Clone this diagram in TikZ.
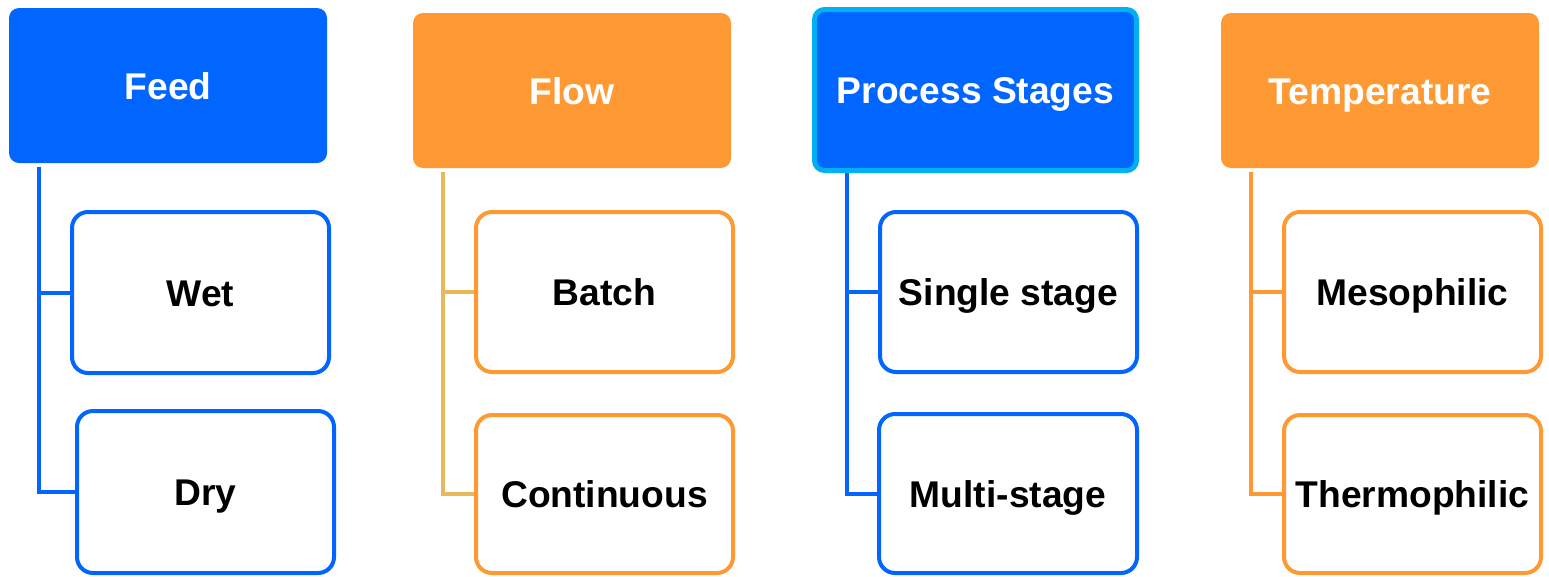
\documentclass[tikz,border=0pt]{standalone}
\usepackage{fontspec}
\setmainfont{Liberation Sans}
\definecolor{headblue}{HTML}{0066FF}
\definecolor{headorange}{HTML}{FF9933}
\definecolor{edgecyan}{HTML}{00B0F0}
\definecolor{linegold}{HTML}{E8B85C}
\tikzset{
  lbl/.style={font=\fontsize{37.2}{40}\selectfont\bfseries, text height=27pt, text depth=0pt, inner sep=0pt},
  header/.style={lbl, rectangle, rounded corners=10pt, text=white, minimum width=318pt, minimum height=155pt},
  child/.style={lbl, rectangle, rounded corners=16pt, draw=#1, line width=4pt, fill=white, text=black, minimum width=257pt, minimum height=160pt},
  conn/.style={draw=#1, line width=4pt},
}
\begin{document}
\begin{tikzpicture}[x=1pt,y=-1pt]
\useasboundingbox (0,0) rectangle (1549,576);

% Feed
\node[header, fill=headblue] (feed) at (168,85.5) {Feed};
\node[child=headblue, minimum height=161pt] (wet) at (200.5,292.5) {Wet};
\node[child=headblue, minimum height=162pt] (dry) at (205.5,492) {Dry};
\coordinate (feedtop) at (39,167);
\draw[conn=headblue] (feedtop) |- (dry.west);
\draw[conn=headblue] (wet.west) -- (feedtop |- wet.west);

% Flow
\node[header, fill=headorange] (flow) at (572,90.5) {Flow};
\node[child=headorange] (batch) at (604.5,292) {Batch};
\node[child=headorange, minimum height=158pt] (cont) at (604.5,494) {Continuous};
\coordinate (flowtop) at (443,172);
\draw[conn=linegold] (flowtop) |- (cont.west);
\draw[conn=linegold] (batch.west) -- (flowtop |- batch.west);

% Process stages
\node[header, fill=headblue, draw=edgecyan, line width=5pt, minimum width=322pt, minimum height=161pt] (proc) at (975.5,90) {Process Stages};
\node[child=headblue] (single) at (1008.5,292) {Single stage};
\node[child=headblue, minimum width=258pt, minimum height=159pt] (multi) at (1008,493.5) {Multi-stage};
\coordinate (proctop) at (847,173);
\draw[conn=headblue] (proctop) |- (multi.west);
\draw[conn=headblue] (single.west) -- (proctop |- single.west);

% Temperature
\node[header, fill=headorange] (temp) at (1380,90.5) {Temperature};
\node[child=headorange] (meso) at (1412.5,292) {Mesophilic};
\node[child=headorange, minimum height=158pt] (thermo) at (1412.5,494) {Thermophilic};
\coordinate (temptop) at (1251,172);
\draw[conn=headorange] (temptop) |- (thermo.west);
\draw[conn=headorange] (meso.west) -- (temptop |- meso.west);
\end{tikzpicture}
\end{document}
